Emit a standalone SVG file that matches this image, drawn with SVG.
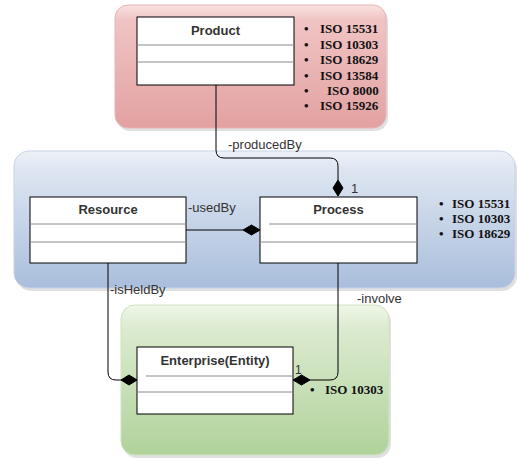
<svg xmlns="http://www.w3.org/2000/svg" width="517" height="458" viewBox="0 0 517 458">
<defs>
<linearGradient id="gRed" x1="0" y1="0" x2="0" y2="1">
<stop offset="0" stop-color="#f9e2e2"/><stop offset="0.12" stop-color="#f0c4c4"/><stop offset="1" stop-color="#e3a1a1"/>
</linearGradient>
<linearGradient id="gBlue" x1="0" y1="0" x2="0" y2="1">
<stop offset="0" stop-color="#edf1f8"/><stop offset="0.15" stop-color="#dde5f1"/><stop offset="1" stop-color="#a9bedc"/>
</linearGradient>
<linearGradient id="gGreen" x1="0" y1="0" x2="0" y2="1">
<stop offset="0" stop-color="#eef6e8"/><stop offset="0.15" stop-color="#dcebd0"/><stop offset="1" stop-color="#b0d29a"/>
</linearGradient>
<style>
.shadow{fill:#000;opacity:0.12}
.cls{fill:#fff;stroke:#000;stroke-width:1}
.div{stroke:#8a8a8a;stroke-width:1}
.title{font-family:"Liberation Sans",Arial,sans-serif;font-size:13px;font-weight:bold;fill:#333;text-anchor:middle}
.lbl{font-family:"Liberation Sans",Arial,sans-serif;font-size:13px;fill:#333}
.iso{font-family:"Liberation Serif","Times New Roman",serif;font-size:13px;font-weight:bold;fill:#111}
.conn{fill:none;stroke:#000;stroke-width:1}
.dia{fill:#000;stroke:#000;stroke-width:1}
</style>
</defs>

<g id="containers">
<rect class="shadow" x="117" y="8" width="271" height="123" rx="13"/>
<rect x="115" y="5" width="271" height="123" rx="13" fill="url(#gRed)" stroke="#e8b3b3"/>
<rect class="shadow" x="16" y="154" width="501" height="137" rx="15"/>
<rect x="14" y="151" width="501" height="137" rx="15" fill="url(#gBlue)" stroke="#c7d3e6"/>
<rect class="shadow" x="123" y="308" width="268" height="150" rx="14"/>
<rect x="121" y="305" width="268" height="150" rx="14" fill="url(#gGreen)" stroke="#cfe2c1"/>
</g>

<g id="connectors">
<path class="conn" d="M216 85 V150 Q216 158 224 158 H330 Q338 158 338 166 V180"/>
<polygon class="dia" points="338,180 343,188 338,196 333,188"/>
<text class="lbl" x="228" y="149">-producedBy</text>
<text class="lbl" x="351" y="193">1</text>

<path class="conn" d="M186 230 H243"/>
<polygon class="dia" points="243,230 251.5,225 260,230 251.5,235"/>
<text class="lbl" x="188" y="212">-usedBy</text>
<text class="lbl" x="262" y="227" style="font-size:12px">1</text>

<path class="conn" d="M108 263 V372 Q108 380 116 380 H121"/>
<polygon class="dia" points="121,380 129,375 137,380 129,385"/>
<text class="lbl" x="110" y="294">-isHeldBy</text>
<text class="lbl" x="139" y="379" style="font-size:12px">1</text>

<path class="conn" d="M338 263 V372 Q338 380 330 380 H310"/>
<polygon class="dia" points="293,380 301.5,375 310,380 301.5,385"/>
<text class="lbl" x="357" y="303">-involve</text>
<text class="lbl" x="295" y="374" style="font-size:12px">1</text>
</g>

<g id="product">
<rect class="cls" x="137" y="17" width="157" height="68"/>
<line class="div" x1="137" y1="45" x2="294" y2="45"/>
<line class="div" x1="137" y1="62" x2="294" y2="62"/>
<text class="title" x="215.5" y="35">Product</text>
</g>
<g id="product-iso">
<g class="iso">
<text x="304" y="33">•</text><text x="320" y="33">ISO 15531</text>
<text x="304" y="49">•</text><text x="320" y="49">ISO 10303</text>
<text x="304" y="64">•</text><text x="320" y="64">ISO 18629</text>
<text x="304" y="80">•</text><text x="320" y="80">ISO 13584</text>
<text x="304" y="95">•</text><text x="327" y="95">ISO 8000</text>
<text x="304" y="110">•</text><text x="320" y="110">ISO 15926</text>
</g>
</g>

<g id="resource">
<rect class="cls" x="30" y="197" width="156" height="66"/>
<line class="div" x1="30" y1="224" x2="186" y2="224"/>
<line class="div" x1="30" y1="242" x2="186" y2="242"/>
<text class="title" x="108" y="214">Resource</text>
</g>

<g id="process">
<rect class="cls" x="260" y="197" width="157" height="66"/>
<line class="div" x1="269" y1="224" x2="417" y2="224"/>
<line class="div" x1="260" y1="242" x2="417" y2="242"/>
<text class="title" x="338.5" y="214">Process</text>
</g>
<g id="process-iso">
<g class="iso">
<text x="439" y="208">•</text><text x="452" y="208">ISO 15531</text>
<text x="439" y="223">•</text><text x="452" y="223">ISO 10303</text>
<text x="439" y="238">•</text><text x="452" y="238">ISO 18629</text>
</g>
</g>

<g id="enterprise">
<rect class="cls" x="137" y="347" width="156" height="67"/>
<line class="div" x1="146" y1="376" x2="293" y2="376"/>
<line class="div" x1="137" y1="392" x2="293" y2="392"/>
<text class="title" x="215" y="365">Enterprise(Entity)</text>
</g>
<g id="enterprise-iso">
<g class="iso">
<text x="310" y="394">•</text><text x="325" y="394">ISO 10303</text>
</g>
</g>
</svg>
